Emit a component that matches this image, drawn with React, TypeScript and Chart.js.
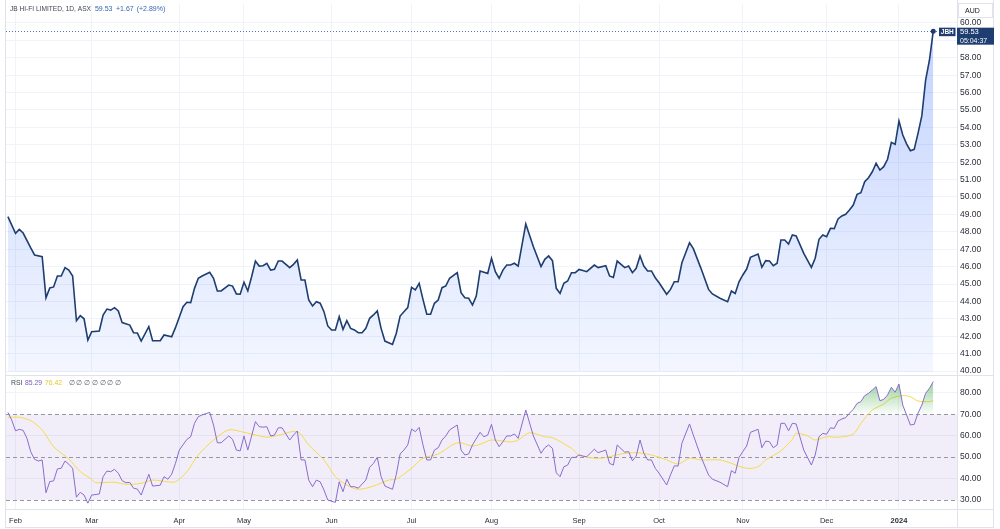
import React, { useEffect, useRef } from 'react';
import { Chart, registerables } from 'chart.js';
Chart.register(...registerables);

const FONT = '"Liberation Sans", Arial, sans-serif';

// Trading-day index (0 = 1 Feb 2023) for month ticks
const monthTickDays = [0, 20, 43, 60, 83, 104, 125, 148, 169, 191, 213, 232];
const monthLabels = ['Feb', 'Mar', 'Apr', 'May', 'Jun', 'Jul', 'Aug', 'Sep', 'Oct', 'Nov', 'Dec', '2024'];

const priceTicks = [40, 41, 42, 43, 44, 45, 46, 47, 48, 49, 50, 51, 52, 53, 54, 55, 56, 57, 58, 59, 60];
const rsiTicks = [30, 40, 50, 60, 70, 80];

const priceDays = [
  -2, 0, 1, 2, 4, 5, 7, 8, 9, 10, 11, 12, 13, 14, 15, 16, 17, 18, 19, 20, 22, 23, 24, 25, 26, 27, 28, 30, 31, 32, 33, 35, 36, 38, 39, 41, 42, 44, 45, 46,
  47, 48, 49, 51, 52, 53, 54, 56, 57, 58, 59, 60, 61, 62, 63, 64, 65, 66, 67, 68, 69, 70, 72, 73, 74, 75, 76, 77, 78, 79, 80, 81, 82, 83, 84, 85, 86, 87, 88, 89,
  90, 91, 92, 93, 94, 95, 96, 97, 99, 100, 101, 102, 103, 104, 105, 106, 107, 108, 109, 110, 111, 112, 113, 114, 116, 117, 118, 119, 120, 121, 122, 123, 124, 125, 126, 127, 128, 129, 130, 131,
  132, 134, 136, 138, 139, 140, 141, 142, 143, 144, 145, 146, 147, 148, 149, 150, 152, 153, 155, 156, 157, 158, 160, 161, 162, 163, 164, 165, 166, 167, 168, 169, 171, 172, 173, 174, 175, 177, 178, 180,
  182, 183, 185, 187, 188, 189, 190, 191, 192, 193, 195, 196, 197, 198, 199, 200, 201, 202, 203, 204, 205, 207, 209, 210, 211, 212, 213, 214, 215, 216, 217, 218, 219, 220, 221, 222, 223, 224, 225, 226,
  227, 228, 229, 230, 231, 232, 233, 234, 235, 236, 237, 238, 239, 240, 241,
];
const priceValues = [
  48.87, 47.91, 48.14, 47.93, 47.07, 46.67, 46.57, 44.21, 44.77, 44.83, 45.46, 45.46, 45.94, 45.8, 45.46, 42.89, 43.18, 43.0, 41.78, 42.26, 42.3, 43.22, 43.56, 43.5, 43.64, 43.45, 42.78, 42.64, 42.2, 42.18, 41.72, 42.55, 41.74, 41.74, 42.07, 41.97, 42.49, 43.7, 43.95, 43.93,
  44.75, 45.33, 45.46, 45.67, 45.33, 44.6, 44.6, 44.94, 44.88, 44.43, 44.41, 45.1, 44.6, 45.42, 46.32, 46.03, 46.05, 46.19, 45.8, 45.84, 46.32, 46.32, 45.94, 46.13, 46.38, 45.23, 45.23, 44.08, 43.74, 43.98, 43.9, 43.41, 42.59, 42.36, 42.36, 43.12, 42.39, 42.89, 42.45, 42.36,
  42.2, 42.2, 42.45, 43.03, 43.22, 43.45, 42.45, 41.72, 41.53, 42.17, 43.16, 43.41, 43.64, 44.81, 44.66, 45.04, 44.12, 43.26, 43.26, 43.89, 44.08, 44.79, 44.89, 45.33, 45.65, 44.5, 44.21, 44.18, 43.79, 44.31, 45.75, 45.68, 45.61, 46.48, 45.71, 45.33, 45.8, 46.09, 46.09, 46.19,
  46.03, 48.45, 47.14, 46.0, 46.42, 46.61, 46.34, 44.75, 44.46, 45.04, 45.17, 45.65, 45.65, 45.84, 45.78, 45.71, 46.09, 45.94, 46.05, 45.46, 45.38, 46.32, 45.94, 46.03, 45.65, 45.9, 46.61, 46.03, 45.75, 45.75, 45.36, 45.07, 44.41, 44.69, 45.13, 45.13, 46.22, 47.37, 47.03, 45.9,
  44.69, 44.43, 44.18, 43.98, 44.6, 44.46, 45.13, 45.52, 45.86, 46.53, 46.72, 45.96, 46.34, 46.32, 46.05, 46.19, 47.53, 47.53, 47.3, 47.82, 47.76, 46.76, 45.96, 46.48, 47.57, 47.82, 47.72, 48.2, 48.18, 48.74, 48.91, 49.01, 49.25, 49.54, 50.15, 50.25, 50.88, 51.11, 51.45, 51.94,
  51.55, 51.74, 52.17, 53.14, 53.03, 54.37, 53.56, 53.05, 52.66, 52.74, 53.66, 54.66, 56.72, 57.86, 59.53,
];

const rsiDays = [
  -2, -1, 0, 1, 2, 3, 4, 5, 6, 7, 8, 9, 10, 11, 12, 13, 14, 15, 16, 17, 18, 19, 20, 22, 23, 24, 25, 26, 27, 28, 29, 30, 31, 32, 33, 35, 36, 38, 39, 40,
  41, 42, 43, 45, 46, 47, 48, 49, 51, 52, 53, 54, 56, 57, 58, 59, 60, 61, 62, 63, 64, 65, 66, 67, 68, 69, 70, 72, 73, 74, 75, 76, 77, 78, 79, 80, 81, 82, 84, 85,
  86, 87, 88, 89, 90, 92, 93, 94, 95, 96, 97, 99, 100, 101, 102, 103, 104, 105, 106, 107, 108, 109, 110, 111, 112, 113, 114, 116, 117, 118, 119, 120, 122, 123, 124, 125, 126, 127, 128, 129,
  130, 131, 132, 134, 136, 138, 139, 140, 141, 142, 143, 144, 145, 146, 147, 148, 149, 150, 152, 153, 155, 156, 157, 158, 160, 161, 162, 163, 164, 165, 166, 167, 168, 169, 171, 172, 173, 174, 175, 177,
  178, 180, 182, 183, 185, 187, 188, 189, 190, 191, 192, 193, 195, 196, 197, 198, 199, 200, 201, 202, 203, 204, 205, 207, 209, 210, 211, 212, 213, 214, 215, 216, 217, 218, 219, 220, 221, 222, 223, 224,
  225, 226, 227, 228, 229, 230, 231, 232, 233, 234, 235, 236, 237, 238, 239, 240, 241,
];
const rsiValues = [
  70.9, 67.3, 62.3, 63.0, 62.5, 58.8, 52.5, 49.0, 48.2, 48.7, 33.4, 38.6, 38.9, 44.5, 44.8, 48.2, 46.7, 44.8, 31.3, 33.6, 32.3, 28.5, 32.3, 32.8, 40.9, 43.5, 43.2, 44.3, 42.5, 39.0, 38.1, 38.2, 35.5, 35.1, 32.3, 42.0, 36.5, 36.9, 40.9, 39.7,
  42.0, 47.1, 53.3, 58.3, 59.5, 65.8, 68.9, 69.7, 70.9, 65.0, 56.7, 56.7, 59.9, 58.3, 53.3, 52.9, 59.9, 53.3, 59.9, 66.6, 64.2, 64.0, 64.2, 59.9, 60.3, 63.7, 63.7, 58.0, 60.3, 62.2, 48.7, 48.7, 39.3, 36.2, 39.3, 38.5, 34.7, 30.0, 28.9, 38.5,
  33.9, 39.7, 36.2, 36.2, 35.5, 39.3, 45.3, 47.1, 49.9, 40.9, 36.5, 35.0, 42.0, 51.5, 53.3, 55.7, 63.1, 61.9, 63.9, 55.7, 48.7, 48.7, 53.3, 54.4, 58.0, 59.9, 62.7, 65.0, 53.3, 51.0, 51.5, 55.7, 61.6, 59.5, 60.3, 65.3, 58.0, 54.9, 57.2, 59.9,
  59.9, 60.8, 58.8, 72.0, 59.9, 51.8, 54.4, 55.7, 54.1, 42.7, 40.9, 45.5, 46.3, 49.9, 49.9, 51.0, 50.5, 50.2, 53.7, 52.1, 53.3, 47.1, 46.3, 55.7, 52.3, 52.6, 48.3, 50.5, 58.0, 51.8, 48.7, 48.7, 44.8, 42.5, 37.0, 41.7, 45.9, 45.9, 56.5, 65.5,
  60.3, 50.2, 41.7, 39.7, 38.3, 36.2, 43.7, 42.5, 49.9, 52.6, 55.2, 61.6, 63.0, 54.4, 57.5, 57.2, 54.4, 55.7, 65.8, 65.8, 62.3, 65.8, 65.5, 53.3, 46.3, 51.0, 59.5, 61.1, 60.7, 63.7, 63.4, 66.9, 67.8, 68.4, 70.5, 72.3, 75.1, 75.9, 78.7, 79.8,
  81.3, 82.9, 76.3, 77.0, 79.0, 82.6, 80.3, 84.1, 74.3, 69.7, 65.0, 65.3, 70.5, 74.3, 79.8, 82.1, 85.29,
];

const rsiMaDays = [
  -2, 1, 4, 7, 10, 14, 17, 20, 21, 26, 29, 33, 36, 40, 42, 45, 48, 52, 56, 60, 62, 66, 69, 74, 77, 81, 84, 87, 90, 94, 98, 100, 104, 107, 111, 116, 120, 122, 125, 130,
  132, 135, 139, 141, 146, 148, 152, 155, 159, 163, 167, 171, 174, 177, 180, 185, 188, 192, 195, 197, 201, 204, 205, 208, 210, 213, 216, 220, 222, 225, 228, 230, 233, 235, 237, 240, 241,
];
const rsiMaValues = [
  68.6, 68.6, 67.0, 62.7, 54.9, 49.1, 43.2, 39.7, 38.1, 38.3, 37.3, 37.8, 39.3, 38.5, 38.5, 43.2, 51.0, 58.0, 62.7, 61.6, 60.8, 59.3, 60.2, 61.9, 55.7, 48.7, 40.9, 37.0, 35.0, 36.5, 39.3, 39.7, 44.8, 49.5, 51.5, 56.7, 55.2, 56.0, 58.0, 57.1,
  58.0, 61.4, 59.5, 59.1, 54.1, 51.0, 49.5, 49.8, 51.5, 52.1, 51.0, 48.7, 46.8, 49.5, 48.7, 48.7, 47.1, 44.8, 45.5, 48.7, 52.9, 58.3, 61.1, 59.9, 58.0, 59.5, 59.3, 60.8, 65.8, 72.0, 74.8, 77.5, 78.7, 78.2, 76.2, 75.9, 76.42,
];

const X_MIN = -2.5;
const X_MAX = 247.24;
const LAST_PRICE = 59.53;

const NAVY = '#1e3d70';
const BORDER = '#e0e3eb';
const GRID = '#f0f3fa';

function txt(ctx: CanvasRenderingContext2D, s: string, x: number, y: number, size: number, color: string, align: CanvasTextAlign = 'left', weight = 'normal') {
  ctx.font = `${weight} ${size}px ${FONT}`;
  ctx.fillStyle = color;
  ctx.textAlign = align;
  ctx.textBaseline = 'middle';
  ctx.fillText(s, x, y);
  return ctx.measureText(s).width;
}

function vline(ctx: CanvasRenderingContext2D, x: number, y0: number, y1: number) {
  ctx.beginPath();
  ctx.moveTo(x, y0);
  ctx.lineTo(x, y1);
  ctx.stroke();
}
function hline(ctx: CanvasRenderingContext2D, y: number, x0: number, x1: number) {
  ctx.beginPath();
  ctx.moveTo(x0, y);
  ctx.lineTo(x1, y);
  ctx.stroke();
}

function zeroPad(s: any) {
  s.paddingTop = 0;
  s.paddingBottom = 0;
  s.paddingLeft = 0;
  s.paddingRight = 0;
}

// keeps two y-values at fixed canvas pixel rows, whatever chart area the layout gives
function calibrate(vA: number, pA: number, vB: number, pB: number) {
  return {
    id: 'calibrate',
    afterLayout(chart: any) {
      const { top, bottom } = chart.chartArea;
      const k = (pB - pA) / (vA - vB);
      const max = vA + (pA - top) / k;
      const min = vB - (bottom - pB) / k;
      const y = chart.options.scales.y;
      if (Math.abs(y.max - max) > 0.0005 || Math.abs(y.min - min) > 0.0005) {
        y.max = max;
        y.min = min;
        chart.update('none');
      }
    },
  };
}

export default function App() {
  const priceRef = useRef<HTMLCanvasElement>(null);
  const rsiRef = useRef<HTMLCanvasElement>(null);

  useEffect(() => {
    document.body.style.margin = '0';
    const pc = priceRef.current!;
    const rc = rsiRef.current!;
    const pctx = pc.getContext('2d')!;
    const rctx = rc.getContext('2d')!;

    const priceGrad = pctx.createLinearGradient(0, 30, 0, 375);
    priceGrad.addColorStop(0, 'rgba(41,98,255,0.28)');
    priceGrad.addColorStop(1, 'rgba(41,98,255,0.05)');

    const greenGrad = rctx.createLinearGradient(0, -20, 0, 38.3);
    greenGrad.addColorStop(0, 'rgba(76,175,80,1)');
    greenGrad.addColorStop(1, 'rgba(76,175,80,0.02)');

    const xScaleBase = {
      type: 'linear' as const,
      min: X_MIN,
      max: X_MAX,
      afterBuildTicks: (s: any) => {
        s.ticks = monthTickDays.map((v) => ({ value: v }));
      },
      grid: { color: GRID, drawTicks: false, lineWidth: 1 },
      border: { display: false },
    };

    const pricePlugin = {
      id: 'pricePlugin',
      beforeDatasetsDraw(chart: any) {
        const { ctx, chartArea, scales } = chart;
        const y = Math.round(scales.y.getPixelForValue(LAST_PRICE)) + 0.5;
        ctx.save();
        ctx.strokeStyle = '#4f74b8';
        ctx.lineWidth = 1;
        ctx.setLineDash([1, 2]);
        hline(ctx, y, chartArea.left, chartArea.right);
        ctx.restore();
      },
      afterDraw(chart: any) {
        const { ctx, scales } = chart;
        ctx.save();
        ctx.strokeStyle = BORDER;
        ctx.lineWidth = 1;
        vline(ctx, 5.5, 0, 376);
        vline(ctx, 957.5, 0, 376);
        vline(ctx, 993.5, 0, 376);
        hline(ctx, 375.5, 5.5, 993.5);

        // AUD box
        ctx.fillStyle = '#ffffff';
        ctx.fillRect(958.5, 3.5, 34, 14);
        ctx.strokeStyle = BORDER;
        ctx.strokeRect(958.5, 3.5, 34, 14);
        txt(ctx, 'AUD', 965, 10.7, 7, '#131722');

        // title
        let x = 10;
        x += txt(ctx, 'JB HI-FI LIMITED, 1D, ASX', x, 9, 6.6, '#434651') + 4;
        x += txt(ctx, '59.53', x, 9, 7, '#3566b0') + 3.5;
        x += txt(ctx, '+1.67', x, 9, 7, '#3566b0') + 3;
        txt(ctx, '(+2.89%)', x, 9, 7, '#3566b0');

        // last price labels
        const py = scales.y.getPixelForValue(LAST_PRICE);
        ctx.fillStyle = NAVY;
        ctx.fillRect(939, py - 3.5, 16.5, 8.5);
        txt(ctx, 'JBH', 947.3, py + 0.8, 6.5, '#ffffff', 'center', 'bold');
        ctx.fillStyle = NAVY;
        ctx.fillRect(957, py - 3.5, 37, 17);
        txt(ctx, '59.53', 960, py + 1, 7.5, '#ffffff');
        txt(ctx, '05:04:37', 960, py + 9.5, 7, '#ffffff');
        ctx.restore();
      },
    };

    const priceChart = new Chart(pc, {
      type: 'line',
      data: {
        datasets: [
          {
            data: priceDays.map((d, i) => ({ x: d, y: priceValues[i] })),
            borderColor: NAVY,
            borderWidth: 1.6,
            pointRadius: (c: any) => (c.dataIndex === priceDays.length - 1 ? 2.5 : 0),
            pointBackgroundColor: NAVY,
            pointBorderWidth: 0,
            fill: 'start',
            backgroundColor: priceGrad,
            tension: 0,
          },
        ],
      },
      options: {
        responsive: false,
        animation: false,
        events: [],
        layout: { padding: { left: 6, right: 0, top: 1, bottom: 1 } },
        plugins: { legend: { display: false }, tooltip: { enabled: false } },
        scales: {
          x: {
            ...xScaleBase,
            ticks: { display: false },
            afterFit: (s: any) => {
              s.height = 0;
              zeroPad(s);
            },
          },
          y: {
            position: 'right',
            min: 39.77,
            max: 61.26,
            afterFit: (s: any) => {
              s.width = 43;
              zeroPad(s);
            },
            afterBuildTicks: (s: any) => {
              s.ticks = priceTicks.map((v) => ({ value: v }));
            },
            ticks: {
              padding: 3,
              color: '#2a2e39',
              font: { size: 8.5, family: FONT },
              callback: (v: any) => Number(v).toFixed(2),
            },
            grid: { color: GRID, drawTicks: false },
            border: { display: false },
          },
        },
      } as any,
      plugins: [pricePlugin, calibrate(60, 23, 40, 371)],
    });

    const rsiPlugin = {
      id: 'rsiPlugin',
      beforeDatasetsDraw(chart: any) {
        const { ctx, chartArea, scales } = chart;
        const y70 = scales.y.getPixelForValue(70);
        const y30 = scales.y.getPixelForValue(30);
        const y50 = scales.y.getPixelForValue(50);
        ctx.save();
        ctx.fillStyle = 'rgba(126,87,194,0.1)';
        ctx.fillRect(chartArea.left, y70, chartArea.right - chartArea.left, y30 - y70);
        ctx.strokeStyle = '#9598a1';
        ctx.lineWidth = 1;
        ctx.setLineDash([4, 3]);
        [y70, y50, y30].forEach((y) => hline(ctx, Math.round(y) + 0.5, chartArea.left, chartArea.right));
        ctx.restore();
      },
      afterDraw(chart: any) {
        const { ctx } = chart;
        ctx.save();
        ctx.strokeStyle = BORDER;
        ctx.lineWidth = 1;
        vline(ctx, 5.5, 0, 152);
        vline(ctx, 957.5, 0, 152);
        vline(ctx, 993.5, 0, 152);
        hline(ctx, 133.5, 5.5, 993.5);
        hline(ctx, 151.5, 5.5, 993.5);

        const ly = 7.5;
        txt(ctx, 'RSI', 11, ly, 6.8, '#434651');
        txt(ctx, '85.29', 25, ly, 6.8, '#7e57c2');
        txt(ctx, '76.42', 45, ly, 6.8, '#e9c62a');
        for (let i = 0; i < 7; i++) txt(ctx, '∅', 68.5 + i * 7.75, ly, 6.8, '#5d606b');
        ctx.restore();
      },
    };

    const rsiChart = new Chart(rc, {
      type: 'line',
      data: {
        datasets: [
          {
            data: rsiDays.map((d, i) => ({ x: d, y: rsiValues[i] })),
            borderColor: '#8a6bcc',
            borderWidth: 1,
            pointRadius: 0,
            tension: 0,
            fill: { target: { value: 70 }, above: greenGrad, below: 'rgba(0,0,0,0)' },
          },
          {
            data: rsiMaDays.map((d, i) => ({ x: d, y: rsiMaValues[i] })),
            borderColor: '#f5d94a',
            borderWidth: 1,
            pointRadius: 0,
            tension: 0.3,
            fill: false,
          },
        ],
      },
      options: {
        responsive: false,
        animation: false,
        events: [],
        layout: { padding: { left: 6, right: 0, top: 1, bottom: 0 } },
        plugins: { legend: { display: false }, tooltip: { enabled: false } },
        scales: {
          x: {
            ...xScaleBase,
            afterFit: (s: any) => {
              s.height = 20;
              zeroPad(s);
            },
            ticks: {
              padding: 7,
              autoSkip: false,
              maxRotation: 0,
              color: '#2a2e39',
              font: (c: any) => ({ size: 7.5, family: FONT, weight: c.tick && c.tick.value === 232 ? 'bold' : 'normal' }),
              callback: (v: any) => {
                const i = monthTickDays.indexOf(Number(v));
                return i >= 0 ? monthLabels[i] : '';
              },
            },
          },
          y: {
            position: 'right',
            min: 25.8,
            max: 87.41,
            afterFit: (s: any) => {
              s.width = 43;
              zeroPad(s);
            },
            afterBuildTicks: (s: any) => {
              s.ticks = rsiTicks.map((v) => ({ value: v }));
            },
            ticks: {
              padding: 3,
              color: '#2a2e39',
              font: { size: 8.5, family: FONT },
              callback: (v: any) => Number(v).toFixed(2),
            },
            grid: {
              color: (c: any) => (c.tick && [40, 60, 80].includes(c.tick.value) ? GRID : 'rgba(0,0,0,0)'),
              drawTicks: false,
            },
            border: { display: false },
          },
        },
      } as any,
      plugins: [rsiPlugin, calibrate(70, 38.3, 30, 124)],
    });

    return () => {
      priceChart.destroy();
      rsiChart.destroy();
    };
  }, []);

  return (
    <div style={{ position: 'fixed', left: 0, top: 0, width: 1000, height: 529, background: '#ffffff', overflow: 'hidden' }}>
      <canvas ref={priceRef} width={1000} height={376} style={{ position: 'absolute', left: 0, top: 0, width: 1000, height: 376 }} />
      <canvas ref={rsiRef} width={1000} height={153} style={{ position: 'absolute', left: 0, top: 376, width: 1000, height: 153 }} />
    </div>
  );
}
